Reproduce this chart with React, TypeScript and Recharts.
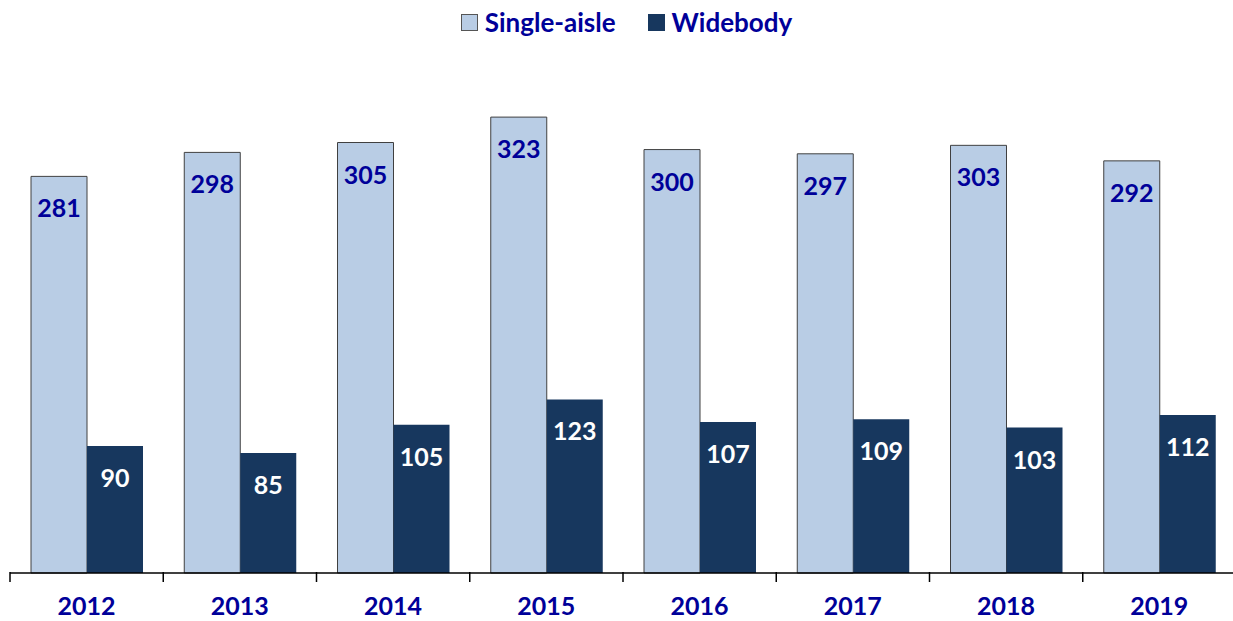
import React from 'react';
import { BarChart, Bar, XAxis, YAxis, LabelList } from 'recharts';

const years = ['2012', '2013', '2014', '2015', '2016', '2017', '2018', '2019'];
const singleAisle = [281, 298, 305, 323, 300, 297, 303, 292];
const widebody = [90, 85, 105, 123, 107, 109, 103, 112];

const data = years.map((year, i) => ({
  year,
  single: singleAisle[i],
  wide: widebody[i],
}));

const FONT = 'Lato, "Open Sans", sans-serif';
const LABEL_BLUE = '#000099';
const LIGHT = '#B9CDE5';
const DARK = '#17375E';

// category width = 1226 / 8
const BAND = 1226 / 8;

function YearTick(props: any) {
  const { x, y, payload } = props;
  return (
    <g>
      <line x1={x - BAND / 2} x2={x - BAND / 2} y1={y - 9} y2={y + 1} stroke="#000" strokeWidth={1.5} />
      <text
        x={x}
        y={y + 24}
        textAnchor="middle"
        dominantBaseline="central"
        fill={LABEL_BLUE}
        fontFamily={FONT}
        fontWeight={700}
        fontSize={25}
      >
        {payload.value}
      </text>
    </g>
  );
}

function makeLabel(color: string) {
  return (props: any) => {
    const { x, y, width, value } = props;
    return (
      <text
        x={x + width / 2}
        y={y + 31}
        textAnchor="middle"
        dominantBaseline="central"
        fill={color}
        fontFamily={FONT}
        fontWeight={700}
        fontSize={25}
      >
        {value}
      </text>
    );
  };
}

function TopLegend() {
  const item = (label: string, fill: string, border: string) => (
    <div style={{ display: 'flex', alignItems: 'center', gap: 7 }}>
      <span
        style={{
          display: 'inline-block',
          width: 15,
          height: 15,
          background: fill,
          border: `1.5px solid ${border}`,
        }}
      />
      <span style={{ fontFamily: FONT, fontWeight: 700, fontSize: 26, color: LABEL_BLUE }}>{label}</span>
    </div>
  );
  return (
    <div
      style={{
        position: 'absolute',
        top: 6,
        left: 0,
        width: 1233,
        display: 'flex',
        justifyContent: 'center',
        gap: 32,
        paddingLeft: 20,
        boxSizing: 'border-box',
        zIndex: 2,
      }}
    >
      {item('Single-aisle', LIGHT, '#555')}
      {item('Widebody', DARK, DARK)}
    </div>
  );
}

export default function App() {
  return (
    <div
      style={{
        position: 'absolute',
        left: 0,
        top: 0,
        width: 1233,
        height: 621,
        overflow: 'hidden',
        background: '#fff',
      }}
    >
      <TopLegend />
      <BarChart
        width={1240}
        height={621}
        data={data}
        margin={{ top: 79, right: 4, left: 10, bottom: 0 }}
        barCategoryGap={21}
        barGap={0}
      >
        <XAxis
          dataKey="year"
          height={48}
          axisLine={{ stroke: '#000', strokeWidth: 1.5 }}
          tickLine={false}
          tick={<YearTick />}
          interval={0}
        />
        <YAxis hide domain={[0, 350]} />
        <Bar dataKey="single" fill={LIGHT} stroke="#404040" strokeWidth={1} isAnimationActive={false}>
          <LabelList dataKey="single" content={makeLabel(LABEL_BLUE)} />
        </Bar>
        <Bar dataKey="wide" fill={DARK} isAnimationActive={false}>
          <LabelList dataKey="wide" content={makeLabel('#fff')} />
        </Bar>
      </BarChart>
    </div>
  );
}
